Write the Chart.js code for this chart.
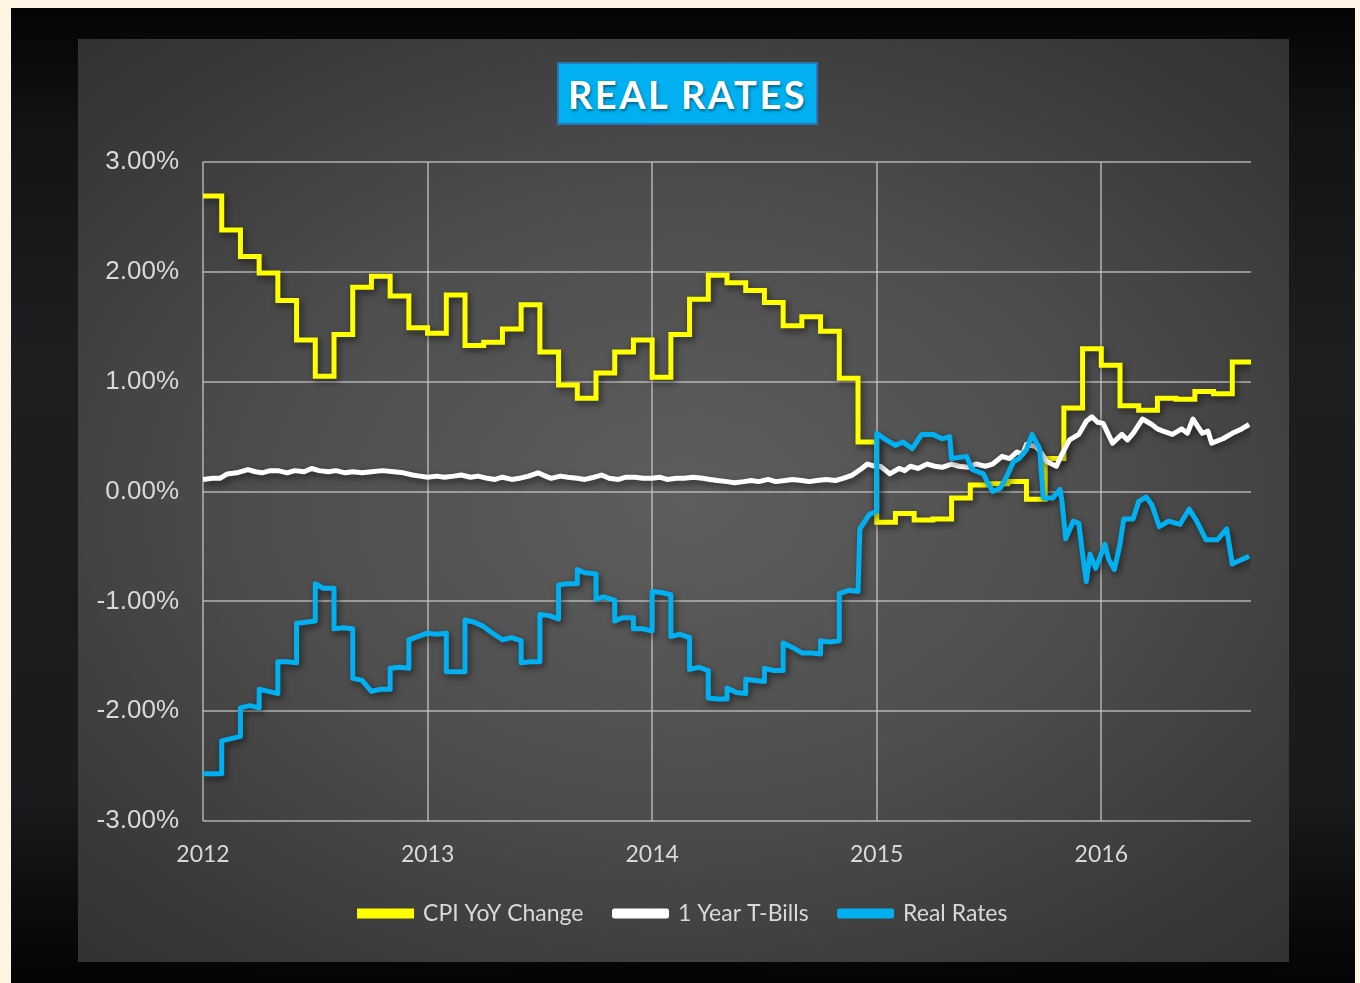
<!DOCTYPE html>
<html>
<head>
<meta charset="utf-8">
<script src="https://cdn.jsdelivr.net/npm/chart.js@4/dist/chart.umd.min.js"></script>
<style>
  html, body { margin: 0; padding: 0; }
  body { width: 1360px; height: 983px; background: #fdf4e3; position: relative; overflow: hidden; }
  #frame {
    position: absolute; left: 11px; top: 8px; width: 1344px; height: 980px;
    background: linear-gradient(180deg, #040404 0%, #121313 12%, #1d1e1f 35%, #1a1b1c 80%, #060606 97%, #040404 100%);
  }
  #panel {
    position: absolute; left: 78px; top: 39px; width: 1211px; height: 923px;
    background: radial-gradient(ellipse 75% 70% at 50% 50%, #5e5e5e 0%, #4e4e4e 45%, #3a3a3a 80%, #313131 100%);
  }
  #title {
    position: absolute; left: 557px; top: 62px; width: 257px; height: 59px;
    background: #00b0f0; border: 2px solid #2e75b6;
    color: #fff; font-family: Lato, "Open Sans", sans-serif; font-weight: bold;
    font-size: 38px; letter-spacing: 2.5px; line-height: 61px; text-align: center;
    text-shadow: 1px 2px 3px rgba(0,0,0,0.45);
  }
  canvas { position: absolute; left: 78px; top: 39px; }
</style>
</head>
<body>
<div id="frame"></div>
<div id="panel"></div>
<canvas id="chart" width="1211" height="923"></canvas>
<div id="title">REAL RATES</div>
<script>
// ---- Daten (x = Monate seit Jan 2012) ----
const yearLabels = ['2012', '2013', '2014', '2015', '2016'];

// CPI YoY, ein Wert pro Monat (Jan 2012 .. Aug 2016)
const cpiValues = [
    2.69, 2.38, 2.14, 1.99, 1.74, 1.38, 1.05, 1.43, 1.86, 1.96, 1.78, 1.49,
    1.44, 1.79, 1.33, 1.36, 1.48, 1.70, 1.27, 0.97, 0.85, 1.08, 1.27, 1.38,
    1.04, 1.43, 1.75, 1.97, 1.90, 1.83, 1.72, 1.51, 1.59, 1.46, 1.03, 0.45,
    -0.28, -0.20, -0.26, -0.25, -0.06, 0.06, 0.07, 0.09, -0.07, 0.30, 0.76, 1.30,
    1.15, 0.78, 0.74, 0.85, 0.84, 0.91, 0.89, 1.18
];

const tbillMonths = [
    0, 0.5, 0.9, 1.3, 1.8, 2.4, 2.8, 3.15, 3.6, 4.0, 4.5, 4.9, 5.4, 5.8, 6.2, 6.7, 7.1, 7.6, 8.0, 8.5,
    9.0, 9.6, 10.2, 10.7, 11.2, 11.6, 12.0, 12.5, 12.9, 13.4, 13.8, 14.3, 14.7, 15.2, 15.6, 16.0, 16.5, 16.9,
    17.4, 17.9, 18.3, 18.6, 19.1, 19.5, 20.0, 20.4, 20.9, 21.3, 21.7, 22.2, 22.6, 23.1, 23.5, 24.0, 24.4,
    24.8, 25.3, 25.7, 26.2, 26.7, 27.1, 27.5, 28.0, 28.4, 28.9, 29.3, 29.7, 30.2, 30.6, 31.1, 31.5, 32.0,
    32.4, 32.8, 33.3, 33.8, 34.2, 34.7, 35.2, 35.5, 35.9, 36.2, 36.7, 37.2, 37.5, 37.8, 38.2, 38.7, 39.1,
    39.5, 40.0, 40.4, 40.9, 41.3, 41.8, 42.2, 42.7, 43.1, 43.5, 43.8, 44.0, 44.5, 44.8, 45.1, 45.6, 45.9,
    46.3, 46.8, 47.2, 47.5, 47.8, 48.1, 48.6, 49.1, 49.4, 49.7, 50.2, 50.7, 51.0, 51.3, 51.8, 52.3, 52.6,
    52.9, 53.4, 53.7, 53.9, 54.5, 55.0, 55.5, 55.9
];
const tbillValues = [
    0.11, 0.12, 0.12, 0.16, 0.17, 0.20, 0.18, 0.17, 0.19, 0.19, 0.17, 0.19, 0.18, 0.21, 0.19, 0.18, 0.19, 0.17, 0.18, 0.17,
    0.18, 0.19, 0.18, 0.17, 0.15, 0.14, 0.13, 0.14, 0.13, 0.14, 0.15, 0.13, 0.14, 0.12, 0.11, 0.13, 0.11, 0.12,
    0.14, 0.17, 0.14, 0.12, 0.14, 0.13, 0.12, 0.11, 0.13, 0.15, 0.12, 0.11, 0.13, 0.13, 0.12, 0.12, 0.13,
    0.11, 0.12, 0.12, 0.13, 0.12, 0.11, 0.10, 0.09, 0.08, 0.09, 0.10, 0.09, 0.11, 0.09, 0.10, 0.11, 0.10,
    0.09, 0.10, 0.11, 0.10, 0.12, 0.15, 0.21, 0.25, 0.23, 0.23, 0.16, 0.21, 0.19, 0.23, 0.21, 0.25, 0.23,
    0.22, 0.25, 0.23, 0.22, 0.25, 0.23, 0.25, 0.32, 0.30, 0.36, 0.34, 0.43, 0.41, 0.35, 0.27, 0.23, 0.34,
    0.47, 0.52, 0.64, 0.68, 0.63, 0.62, 0.44, 0.52, 0.47, 0.53, 0.66, 0.61, 0.57, 0.55, 0.52, 0.57, 0.53,
    0.66, 0.53, 0.55, 0.44, 0.48, 0.53, 0.57, 0.61
];

const realMonths = [
    0, 1, 1, 1.5, 2, 2, 2.5, 3, 3, 3.5, 4, 4, 4.5, 5, 5, 5.5, 6, 6, 6.4, 7, 7, 7.5, 8, 8, 8.5, 9, 9.5, 10, 10,
    10.5, 11, 11, 11.5, 12, 12.5, 13, 13, 13.5, 14, 14, 14.5, 15, 15.3, 16, 16.5, 17, 17, 17.5, 18, 18, 18.5,
    19, 19, 19.5, 20, 20, 20.4, 21, 21, 21.4, 22, 22, 22.4, 23, 23, 23.5, 24, 24, 24.5, 25, 25, 25.5, 26, 26,
    26.5, 27, 27, 27.5, 28, 28, 28.5, 29, 29, 29.5, 30, 30, 30.5, 31, 31, 31.5, 32, 32.5, 33, 33, 33.5, 34, 34,
    34.5, 35, 35.1, 35.6, 36, 36, 36.5, 37, 37.4, 37.9, 38.4, 39, 39.5, 39.9, 40, 40.8, 41.1, 41.7, 41.9, 42.2,
    42.6, 42.9, 43.3, 43.6, 44, 44.3, 44.7, 44.9, 45.4, 45.8, 45.9, 46.1, 46.5, 46.8, 47, 47.2, 47.4, 47.7,
    48.2, 48.4, 48.7, 49, 49.2, 49.7, 50, 50.4, 50.7, 51.1, 51.6, 52.2, 52.7, 53.1, 53.6, 54.2, 54.7, 55,
    55.5, 55.9
];
const realValues = [
    -2.57, -2.57, -2.27, -2.25, -2.23, -1.97, -1.95, -1.97, -1.80, -1.82, -1.84, -1.55, -1.55, -1.56, -1.20, -1.19, -1.18, -0.84, -0.88, -0.88, -1.25, -1.24, -1.25, -1.70, -1.72, -1.82, -1.80, -1.80, -1.61,
    -1.60, -1.61, -1.35, -1.32, -1.29, -1.30, -1.29, -1.64, -1.64, -1.64, -1.17, -1.19, -1.23, -1.27, -1.35, -1.33, -1.36, -1.56, -1.55, -1.55, -1.12, -1.13,
    -1.16, -0.85, -0.84, -0.84, -0.71, -0.74, -0.75, -0.98, -0.96, -0.99, -1.18, -1.15, -1.15, -1.25, -1.25, -1.27, -0.91, -0.92, -0.94, -1.32, -1.30, -1.33, -1.62,
    -1.60, -1.63, -1.88, -1.89, -1.89, -1.79, -1.83, -1.84, -1.71, -1.72, -1.73, -1.61, -1.63, -1.63, -1.38, -1.42, -1.47, -1.47, -1.48, -1.36, -1.37, -1.36, -0.93,
    -0.90, -0.91, -0.34, -0.21, -0.18, 0.53, 0.47, 0.42, 0.45, 0.39, 0.52, 0.52, 0.48, 0.50, 0.30, 0.32, 0.20, 0.16, 0.09, 0.00,
    0.03, 0.12, 0.27, 0.30, 0.38, 0.52, 0.39, -0.06, -0.06, 0.02, -0.09, -0.43, -0.27, -0.29, -0.57, -0.82, -0.57, -0.70,
    -0.48, -0.62, -0.71, -0.48, -0.25, -0.25, -0.09, -0.05, -0.12, -0.32, -0.27, -0.30, -0.16, -0.27, -0.44, -0.44, -0.34, -0.66,
    -0.62, -0.59
];

const yMin = -3, yMax = 3;
const xEnd = 56;

// ---- Daten für Chart.js aufbereiten ----
const cpiData = cpiValues.map((v, i) => ({ x: i, y: v }));
cpiData.push({ x: xEnd, y: cpiValues[cpiValues.length - 1] });
const tbillData = tbillMonths.map((m, i) => ({ x: m, y: tbillValues[i] }));
const realData = realMonths.map((m, i) => ({ x: m, y: realValues[i] }));

// Schatten unter den Linien
const lineShadow = {
    id: 'lineShadow',
    beforeDatasetDraw(chart) {
        const ctx = chart.ctx;
        ctx.save();
        ctx.shadowColor = 'rgba(0,0,0,0.55)';
        ctx.shadowBlur = 7;
        ctx.shadowOffsetX = 2;
        ctx.shadowOffsetY = 3;
    },
    afterDatasetDraw(chart) {
        chart.ctx.restore();
    }
};

const gridColor = 'rgba(205,205,205,0.6)';
const textColor = '#d9d9d9';

const ctx = document.getElementById('chart').getContext('2d');
const chart = new Chart(ctx, {
    type: 'line',
    data: {
        datasets: [
            {
                label: 'CPI YoY Change',
                data: cpiData,
                borderColor: '#ffff00',
                backgroundColor: '#ffff00',
                borderWidth: 5,
                stepped: 'before',
                pointRadius: 0,
                order: 3
            },
            {
                label: '1 Year T-Bills',
                data: tbillData,
                borderColor: '#ffffff',
                backgroundColor: '#ffffff',
                borderWidth: 5,
                pointRadius: 0,
                borderJoinStyle: 'round',
                order: 2
            },
            {
                label: 'Real Rates',
                data: realData,
                borderColor: '#00b0f0',
                backgroundColor: '#00b0f0',
                borderWidth: 5,
                pointRadius: 0,
                borderJoinStyle: 'round',
                order: 1
            }
        ]
    },
    options: {
        responsive: false,
        animation: false,
        layout: { padding: { top: 123, right: 0, left: 0, bottom: 27 } },
        plugins: {
            legend: {
                position: 'bottom',
                labels: {
                    color: textColor,
                    font: { family: 'Lato', size: 23 },
                    boxWidth: 52,
                    boxHeight: 5,
                    padding: 31,
                    sort: (a, b) => a.datasetIndex - b.datasetIndex
                }
            },
            tooltip: { enabled: false }
        },
        scales: {
            x: {
                type: 'linear',
                min: 0,
                max: xEnd,
                ticks: {
                    stepSize: 12,
                    color: textColor,
                    font: { family: 'Lato', size: 23 },
                    padding: 20,
                    maxRotation: 0,
                    callback: v => yearLabels[v / 12]
                },
                grid: { color: gridColor, lineWidth: 2, drawTicks: false },
                border: { display: false },
                afterFit: s => { s.height = 50; }
            },
            y: {
                min: yMin,
                max: yMax,
                ticks: {
                    stepSize: 1,
                    color: textColor,
                    font: { family: 'Liberation Sans', size: 26 },
                    padding: 24,
                    callback: v => v.toFixed(2) + '%'
                },
                grid: { color: gridColor, lineWidth: 2, drawTicks: false },
                border: { display: false },
                afterFit: s => { s.width = 125; }
            },
            // leerer Rand rechts, damit die Legende mittig im Panel sitzt
            yRight: {
                position: 'right',
                min: yMin,
                max: yMax,
                ticks: { display: false },
                grid: { display: false },
                border: { display: false },
                afterFit: s => { s.width = 38; }
            }
        }
    },
    plugins: [lineShadow]
});
</script>
</body>
</html>
